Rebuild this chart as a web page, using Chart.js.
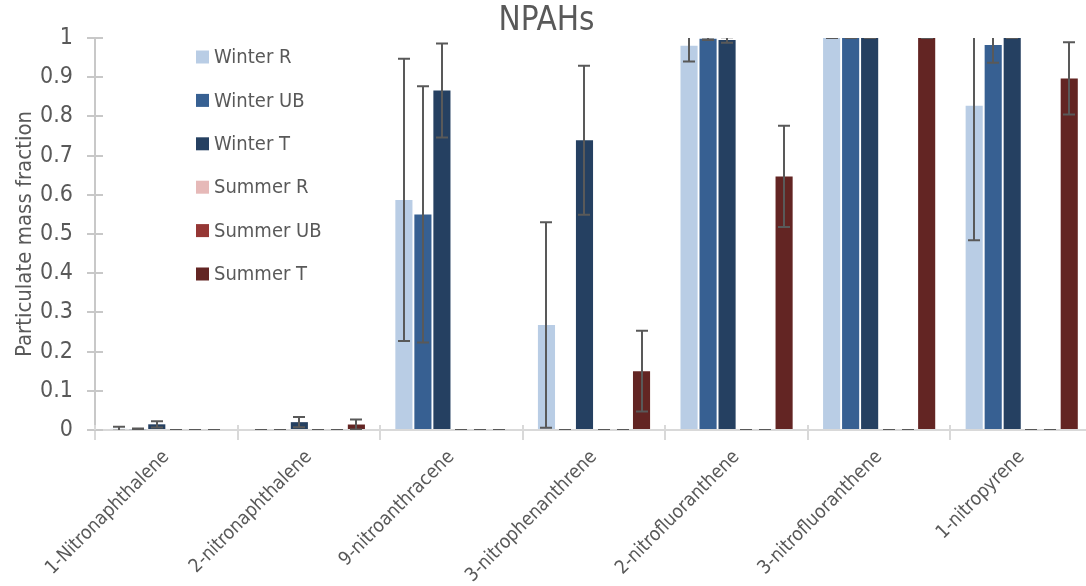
<!DOCTYPE html>
<html>
<head>
<meta charset="utf-8">
<script src="https://cdn.jsdelivr.net/npm/chart.js@4.4.1/dist/chart.umd.min.js"></script>
<style>
  body { margin: 0; background: #fff; overflow: hidden; }
  #wrap { width: 1093px; height: 586px; }
</style>
</head>
<body>
<div id="wrap"><canvas id="chart" width="1093" height="586"></canvas></div>
<script>
const FONT = "'Liberation Sans Narrow', 'Arial Narrow', 'DejaVu Sans Condensed', sans-serif";
const GREY = "#595959";

const categories = [
  "1-Nitronaphthalene",
  "2-nitronaphthalene",
  "9-nitroanthracene",
  "3-nitrophenanthrene",
  "2-nitrofluoranthene",
  "3-nitrofluoranthene",
  "1-nitropyrene"
];

// mean particulate fraction and error (+/-) per compound
const winterR = [0.003, 0, 0.587, 0.268, 0.98, 1.0, 0.827];
const winterRErr = [0.005, 0, 0.36, 0.262, 0.04, 0, 0.343];
const winterUB = [0.002, 0, 0.55, 0, 0.998, 1.0, 0.982];
const winterUBErr = [0.002, 0, 0.327, 0, 0.003, 0, 0.045];
const winterT = [0.0145, 0.02, 0.866, 0.739, 0.995, 1.0, 1.0];
const winterTErr = [0.008, 0.013, 0.12, 0.19, 0.007, 0, 0];
const summerR = [0, 0, 0, 0, 0, 0, 0];
const summerRErr = [0, 0, 0, 0, 0, 0, 0];
const summerUB = [0, 0, 0, 0, 0, 0, 0];
const summerUBErr = [0, 0, 0, 0, 0, 0, 0];
const summerT = [0, 0.014, 0, 0.15, 0.647, 1.0, 0.897];
const summerTErr = [0, 0.013, 0, 0.103, 0.129, 0, 0.092];

const yTicks = [0, 0.1, 0.2, 0.3, 0.4, 0.5, 0.6, 0.7, 0.8, 0.9, 1];

const series = [
  { label: "Winter R", data: winterR, errors: winterRErr, color: "#b9cde5" },
  { label: "Winter UB", data: winterUB, errors: winterUBErr, color: "#376092" },
  { label: "Winter T", data: winterT, errors: winterTErr, color: "#254061" },
  { label: "Summer R", data: summerR, errors: summerRErr, color: "#e6b9b8" },
  { label: "Summer UB", data: summerUB, errors: summerUBErr, color: "#953735" },
  { label: "Summer T", data: summerT, errors: summerTErr, color: "#632523" }
];

// draws the +/- error bars, clipped to the plot area
const errorBars = {
  id: "errorBars",
  afterDatasetsDraw(chart) {
    const { ctx, chartArea, scales } = chart;
    const y = scales.y;
    ctx.save();
    ctx.beginPath();
    ctx.rect(chartArea.left, chartArea.top, chartArea.right - chartArea.left, chartArea.bottom - chartArea.top);
    ctx.clip();
    ctx.strokeStyle = GREY;
    ctx.lineWidth = 2;
    chart.data.datasets.forEach((ds, i) => {
      const meta = chart.getDatasetMeta(i);
      meta.data.forEach((bar, j) => {
        const v = ds.data[j];
        const e = ds.errors[j];
        const top = y.getPixelForValue(v + e);
        const bot = y.getPixelForValue(v - e);
        const x = Math.round(bar.x);
        ctx.beginPath();
        ctx.moveTo(x, top);
        ctx.lineTo(x, bot);
        ctx.moveTo(x - 6, top);
        ctx.lineTo(x + 6, top);
        ctx.moveTo(x - 6, bot);
        ctx.lineTo(x + 6, bot);
        ctx.stroke();
      });
    });
    ctx.restore();
  }
};

// tick marks that cross the axis lines (inner half)
const crossTicks = {
  id: "crossTicks",
  afterDraw(chart) {
    const { ctx, chartArea, scales } = chart;
    ctx.save();
    ctx.lineWidth = 2;
    ctx.strokeStyle = "#c8c8c8";
    scales.y.ticks.forEach(t => {
      const py = Math.round(scales.y.getPixelForValue(t.value));
      ctx.beginPath();
      ctx.moveTo(chartArea.left, py);
      ctx.lineTo(chartArea.left + 8, py);
      ctx.stroke();
    });
    ctx.strokeStyle = "#d9d9d9";
    for (let i = 0; i <= categories.length; i++) {
      const px = Math.round(chartArea.left + i * (chartArea.right - chartArea.left) / categories.length);
      ctx.beginPath();
      ctx.moveTo(px, chartArea.bottom);
      ctx.lineTo(px, chartArea.bottom - 5);
      ctx.stroke();
    }
    ctx.restore();
  }
};

// legend sitting inside the plot area
const innerLegend = {
  id: "innerLegend",
  afterDraw(chart) {
    const ctx = chart.ctx;
    ctx.save();
    ctx.font = "20px " + FONT;
    ctx.textBaseline = "middle";
    ctx.textAlign = "left";
    chart.data.datasets.forEach((ds, i) => {
      const cy = 57 + i * 43.4;
      ctx.fillStyle = ds.backgroundColor;
      ctx.fillRect(196, cy - 6.5, 13, 13);
      ctx.fillStyle = GREY;
      ctx.fillText(ds.label, 214, cy + 1);
    });
    ctx.restore();
  }
};

const chart = new Chart(document.getElementById("chart"), {
  type: "bar",
  data: {
    labels: categories,
    datasets: series.map(s => ({
      label: s.label,
      data: s.data,
      errors: s.errors,
      backgroundColor: s.color,
      borderWidth: 0
    }))
  },
  options: {
    responsive: false,
    animation: false,
    layout: { padding: 0 },
    plugins: {
      legend: { display: false },
      tooltip: { enabled: false },
      title: {
        display: true,
        text: "NPAHs",
        color: GREY,
        font: { family: FONT, size: 33, weight: "normal", lineHeight: 1 },
        padding: { top: 5, bottom: 0 }
      }
    },
    scales: {
      x: {
        grid: { display: true, drawOnChartArea: false, color: "#d9d9d9", lineWidth: 2, tickLength: 10, offset: true },
        border: { color: "#d9d9d9", width: 2 },
        ticks: {
          color: GREY,
          font: { family: FONT, size: 19 },
          minRotation: 45,
          maxRotation: 45,
          padding: 6,
          autoSkip: false
        },
        afterFit(scale) { scale.height = 156; }
      },
      y: {
        min: 0,
        max: 1,
        afterBuildTicks(scale) { scale.ticks = yTicks.map(v => ({ value: v })); },
        grid: { display: true, drawOnChartArea: false, color: "#c8c8c8", lineWidth: 2, tickLength: 8 },
        border: { color: "#c8c8c8", width: 2 },
        ticks: {
          color: GREY,
          font: { family: FONT, size: 23 },
          padding: 14,
          callback: v => String(+v.toFixed(1))
        },
        title: {
          display: true,
          text: "Particulate mass fraction",
          color: GREY,
          font: { family: FONT, size: 22 },
          padding: { top: 12, bottom: 0 }
        },
        afterFit(scale) { scale.width = 95; }
      }
    }
  },
  plugins: [errorBars, crossTicks, innerLegend]
});
</script>
</body>
</html>
